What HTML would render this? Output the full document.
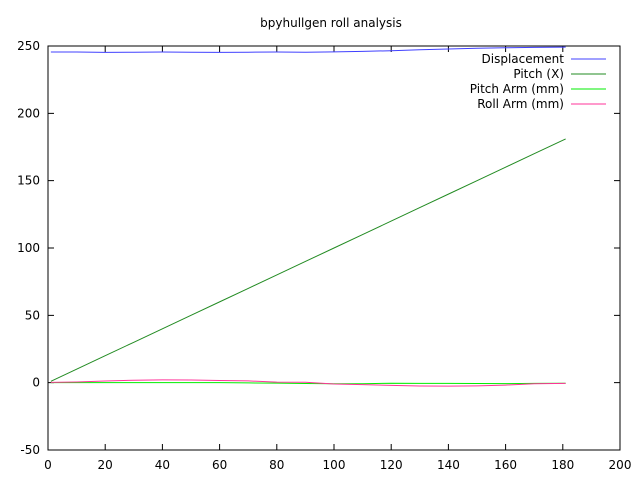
<!DOCTYPE html>
<html><head><meta charset="utf-8"><style>
body{margin:0;background:#fff}
svg{font-family:"DejaVu Sans","Liberation Sans",sans-serif;font-size:12px}
</style></head><body>
<svg width="640" height="480" id="svg">
<text x="331" y="27" text-anchor="middle">bpyhullgen roll analysis</text>
<g id="axes"></g><g id="series"></g><g id="legend"></g>
<rect x="48" y="46" width="572" height="404" fill="none" stroke="#000"/>
</svg>
<script>
const xs=[1,10,20,30,40,50,60,70,80,90,100,110,120,130,140,150,160,170,181];
const displacement=[245.5,245.5,245.3,245.4,245.5,245.4,245.3,245.4,245.5,245.4,245.6,246.0,246.5,247.2,247.8,248.3,248.7,249.0,249.2];
const pitchX=[1,10,20,30,40,50,60,70,80,90,100,110,120,130,140,150,160,170,181];
const pitchArm=[0,0,0,0,0,0,0,-0.2,-0.3,-0.6,-0.8,-0.8,-0.4,-0.5,-0.5,-0.6,-0.7,-0.5,-0.4];
const rollArm=[0.2,0.5,1.2,1.8,2.1,2.0,1.6,1.3,0.4,0.3,-1.0,-1.5,-2.0,-2.5,-2.6,-2.4,-1.8,-0.8,-0.5];
const xTicks=[0,20,40,60,80,100,120,140,160,180,200];
const yTicks=[-50,0,50,100,150,200,250];
const names=["Displacement","Pitch (X)","Pitch Arm (mm)","Roll Arm (mm)"];
const colors=["#4040ff","#228b22","#00ee00","#ff3399"];
const X=v=>48+(v-0)*572/200, Y=v=>450-(v+50)*404/300;
const NS="http://www.w3.org/2000/svg";
function mk(t,a,p){const e=document.createElementNS(NS,t);for(const k in a)e.setAttribute(k,a[k]);p.appendChild(e);return e;}
const ax=document.getElementById('axes');
xTicks.forEach(v=>{
 const l=mk('path',{d:`M${X(v)},450v-6M${X(v)},46v6`,stroke:'#000'},ax);
 
 
 const t=mk('text',{x:X(v),y:469,'text-anchor':'middle'},ax);t.textContent=v;
 
 
});
yTicks.forEach(v=>{
 const l=mk('path',{d:`M48,${Y(v)}h6M620,${Y(v)}h-6`,stroke:'#000'},ax);
 
 
 const t=mk('text',{x:40,y:Y(v)+4,'text-anchor':'end'},ax);t.textContent=v;
 
 
});
const se=document.getElementById('series');
[displacement,pitchX,pitchArm,rollArm].forEach((s,i)=>{
 const p=mk('polyline',{points:xs.map((x,j)=>X(x)+','+Y(s[j])).join(' '),fill:'none',stroke:colors[i],'stroke-width':1},se);
 
 
});
const lg=document.getElementById('legend');
names.forEach((n,i)=>{
 const y=59+i*15;
 const t=mk('text',{x:564,y:y+4,'text-anchor':'end'},lg);t.textContent=n;
 
 
 const l=mk('line',{x1:571,x2:606,y1:y,y2:y,stroke:colors[i]},lg);
 
 
});
</script>
</body></html>
